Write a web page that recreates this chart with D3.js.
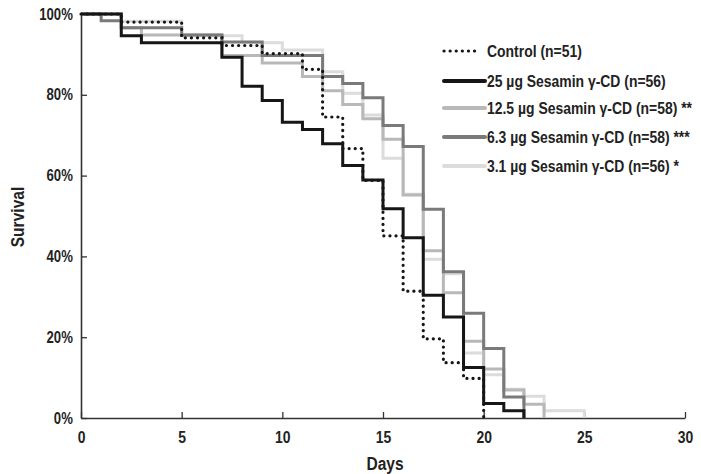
<!DOCTYPE html>
<html><head><meta charset="utf-8">
<script src="https://cdn.jsdelivr.net/npm/d3@7"></script>
<style>
html,body{margin:0;padding:0;background:#fff;}
svg text{font-family:"Liberation Sans Narrow","Arial Narrow","Liberation Sans",Arial,sans-serif;font-weight:bold;fill:#222;}
</style></head>
<body>
<svg id="chart" width="701" height="474"></svg>
<script>
// Data (survival in %, step changes at given day)
const daysControl = [0,2,5,7,9,11,12,13,14,15,16,17,18,19,20];
const survControl = [100,98.0,94.1,92.2,90.2,86.3,74.5,66.7,58.8,45.1,31.4,19.6,13.7,9.8,0];
const days25 = [0,2,3,7,8,9,10,11,12,13,14,15,16,17,18,19,20,21,22];
const surv25 = [100,94.6,92.9,89.3,82.1,78.6,73.2,71.4,67.9,62.5,58.9,51.8,44.6,30.4,25.0,12.5,3.6,1.8,0];
const days12_5 = [0,2,3,7,9,11,12,13,14,15,16,17,18,19,20,21,22,23];
const surv12_5 = [100,96.6,94.8,89.7,87.9,84.5,81.0,77.6,74.1,69.0,55.2,41.4,31.0,19.0,12.1,6.9,3.4,0];
const days6_3 = [0,1,2,5,7,9,12,13,14,15,16,17,18,19,20,21,22];
const surv6_3 = [100,98.3,96.6,94.8,93.1,89.7,84.5,82.8,79.3,72.4,67.2,51.7,36.2,25.9,17.2,5.2,0];
const days3_1 = [0,2,5,8,10,12,13,14,15,16,17,18,19,20,21,22,23,25];
const surv3_1 = [100,98.2,94.6,92.9,91.1,85.7,80.4,75.0,64.3,55.4,39.3,35.7,16.1,10.7,7.1,5.4,1.8,0];

const seriesNames = ["Control (n=51)","25 µg Sesamin γ-CD (n=56)","12.5 µg Sesamin γ-CD (n=58) **","6.3 µg Sesamin γ-CD (n=58) ***","3.1 µg Sesamin γ-CD (n=56) *"];
const xTicks = [0,5,10,15,20,25,30];
const yTicks = [0,20,40,60,80,100];

const series = [
  {name:seriesNames[4], days:days3_1, surv:surv3_1, color:"#dcdcdc", dotted:false},
  {name:seriesNames[2], days:days12_5, surv:surv12_5, color:"#b8b8b8", dotted:false},
  {name:seriesNames[3], days:days6_3, surv:surv6_3, color:"#7a7a7a", dotted:false},
  {name:seriesNames[1], days:days25, surv:surv25, color:"#161616", dotted:false},
  {name:seriesNames[0], days:daysControl, surv:survControl, color:"#161616", dotted:true}
];

const NARROW = 0.82;
const svg = d3.select("#chart");
const x = d3.scaleLinear().domain([0,30]).range([81,685]);
const y = d3.scaleLinear().domain([0,100]).range([418,14]);

// axes
const xAxis = svg.append("g").attr("transform","translate(0,418)")
  .call(d3.axisBottom(x).tickValues(xTicks).tickSizeInner(-6).tickSizeOuter(0).tickPadding(13).tickFormat(d3.format("d")));
xAxis.select(".domain").attr("stroke","#333").attr("stroke-width",1.6);
xAxis.selectAll(".tick line").attr("stroke","#333").attr("stroke-width",1.3);
xAxis.selectAll(".tick text").attr("font-size",17).attr("fill","#222").attr("transform",`scale(${NARROW},1)`);

const yAxis = svg.append("g").attr("transform","translate(81,0)")
  .call(d3.axisLeft(y).tickValues(yTicks).tickSizeInner(-6).tickSizeOuter(0).tickPadding(10).tickFormat(d=>d+"%"));
yAxis.select(".domain").attr("stroke","#333").attr("stroke-width",1.6);
yAxis.selectAll(".tick line").attr("stroke","#333").attr("stroke-width",1.3);
yAxis.selectAll(".tick text").attr("font-size",16).attr("fill","#222").attr("transform",`scale(${NARROW},1)`);

svg.append("text").attr("transform",`translate(385,470) scale(${NARROW},1)`).attr("text-anchor","middle").attr("font-size",19).text("Days");
svg.append("text").attr("transform",`translate(24,217) rotate(-90) scale(${NARROW},1)`).attr("text-anchor","middle").attr("font-size",19).text("Survival");

// curves
const line = d3.line().x(d=>x(d[0])).y(d=>y(d[1])).curve(d3.curveStepAfter);
series.forEach(s=>{
  const pts = s.days.map((d,i)=>[d,s.surv[i]]);
  const p = svg.append("path").attr("d",line(pts)).attr("fill","none")
    .attr("stroke",s.color).attr("stroke-width",3);
  if(s.dotted){ p.attr("stroke-dasharray","0.1,6").attr("stroke-linecap","round").attr("stroke-width",3.2); }
  else { p.attr("stroke-linejoin","miter").attr("stroke-linecap","butt"); }
});

// legend
const legendOrder = [4,3,1,2,0];
const legY = [51,81,108,137,166];
legendOrder.forEach((si,i)=>{
  const s = series[si];
  const g = svg.append("g");
  const l = g.append("line").attr("x1",444).attr("x2",s.dotted?479:485).attr("y1",legY[i]).attr("y2",legY[i])
    .attr("stroke",s.color).attr("stroke-width",s.dotted?3.2:4);
  if(s.dotted) l.attr("stroke-dasharray","0.1,6").attr("stroke-linecap","round");
  else l.attr("stroke-linecap","round");
  g.append("text").attr("transform",`translate(487,${legY[i]}) scale(${NARROW},1)`).attr("dy","0.36em").attr("font-size",17).text(s.name);
});
</script>
</body></html>
